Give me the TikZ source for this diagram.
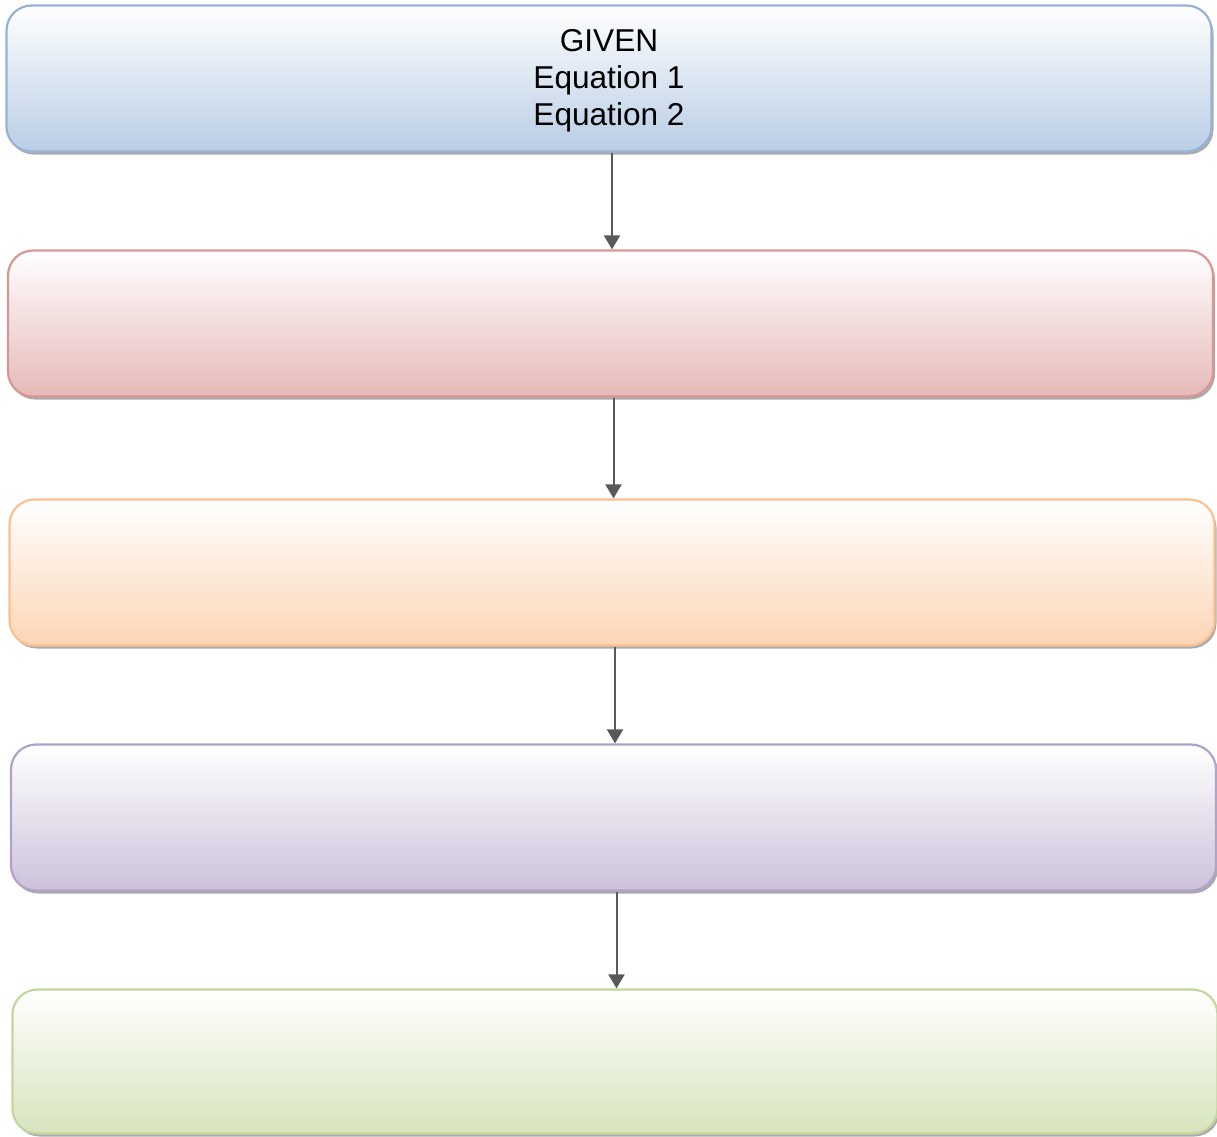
\documentclass[tikz,border=0pt]{standalone}
\usepackage{fontspec}
\setmainfont{Liberation Sans}
\usetikzlibrary{shadows,arrows.meta}
\definecolor{bfill}{HTML}{B9CDE5}\definecolor{bline}{HTML}{95B3D7}
\definecolor{rfill}{HTML}{E6B9B8}\definecolor{rline}{HTML}{D99694}
\definecolor{ofill}{HTML}{FCD5B5}\definecolor{oline}{HTML}{FAC090}
\definecolor{pfill}{HTML}{CCC1DA}\definecolor{pline}{HTML}{B3A2C7}
\definecolor{gfill}{HTML}{D7E4BD}\definecolor{gline}{HTML}{C3D69B}
\definecolor{arr}{HTML}{595959}
\tikzset{
  stagebox/.style={draw=#1line, line width=2.2pt, rounded corners=25pt,
    top color=white, bottom color=#1fill,
    minimum width=1205pt, minimum height=146pt, inner sep=0pt,
    drop shadow={shadow xshift=2pt, shadow yshift=-3pt, fill=black!55, opacity=0.6},
    font=\fontsize{31.6}{37}\selectfont, align=center},
  flow/.style={draw=arr, line width=2pt, -{Triangle[width=16pt,length=14pt]}}
}
\begin{document}
\begin{tikzpicture}[x=1pt,y=-1pt]
\useasboundingbox (0,0) rectangle (1217,1136);
\node[stagebox=b] (b1) at (609,78.5) {};
\node[font=\fontsize{31.6}{37}\selectfont, align=center, inner sep=0pt] (t1) at (609,81) {GIVEN\\Equation 1\\Equation 2};
\node[stagebox=r] (b2) at (610.5,323.5) {};
\node[stagebox=o] (b3) at (612,572.5) {};
\node[stagebox=p] (b4) at (613.5,817.5) {};
\node[stagebox=g, minimum height=144pt] (b5) at (615,1061.5) {};
\draw[flow] ([xshift=1.5pt]b2.north |- b1.south) -- ([xshift=1.5pt]b2.north);
\draw[flow] ([xshift=1.5pt]b3.north |- b2.south) -- ([xshift=1.5pt]b3.north);
\draw[flow] ([xshift=1.5pt]b4.north |- b3.south) -- ([xshift=1.5pt]b4.north);
\draw[flow] ([xshift=1.5pt]b5.north |- b4.south) -- ([xshift=1.5pt]b5.north);
\end{tikzpicture}
\end{document}
